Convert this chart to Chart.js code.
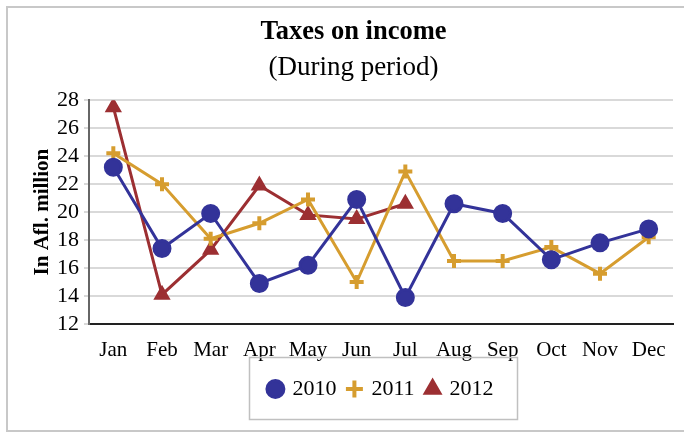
<!DOCTYPE html>
<html lang="en">
<head>
    <meta charset="UTF-8">
    <title>Taxes on income</title>
    <script src="https://cdn.jsdelivr.net/npm/chart.js"></script>
    <style>
        body {
            margin: 0;
            background: #ffffff;
        }
    </style>
</head>
<body>
    <canvas id="taxChart" width="684" height="434"></canvas>

    <script>
        const months = ["Jan", "Feb", "Mar", "Apr", "May", "Jun", "Jul", "Aug", "Sep", "Oct", "Nov", "Dec"];
        const taxes2010 = [23.2, 17.4, 19.9, 14.9, 16.2, 20.9, 13.9, 20.6, 19.9, 16.6, 17.8, 18.8];
        const taxes2011 = [24.2, 22.0, 18.1, 19.2, 20.9, 15.0, 22.9, 16.5, 16.5, 17.5, 15.6, 18.2];
        const taxes2012 = [27.5, 14.1, 17.3, 21.9, 19.8, 19.5, 20.6];

        const serif = "'Liberation Serif', 'Times New Roman', serif";

        // outer frame and the box around the legend
        const framePlugin = {
            id: "frame",
            afterLayout(chart) {
                // the legend sits a bit right of centre in the original
                chart.legend.left += 28;
                chart.legend.right += 28;
            },
            afterDraw(chart) {
                const ctx = chart.ctx;
                ctx.save();
                ctx.strokeStyle = "#c8c8c8";
                ctx.lineWidth = 2;
                ctx.strokeRect(7, 7, 690, 424);
                ctx.strokeStyle = "#c0c0c0";
                ctx.lineWidth = 1.5;
                ctx.strokeRect(249.5, 357.5, 268, 62);
                ctx.restore();
            }
        };

        new Chart(document.getElementById("taxChart"), {
            type: "line",
            data: {
                labels: months,
                datasets: [
                    {
                        label: "2010",
                        data: taxes2010,
                        borderColor: "#333399",
                        backgroundColor: "#333399",
                        borderWidth: 3,
                        pointStyle: "circle",
                        pointRadius: 8,
                        tension: 0
                    },
                    {
                        label: "2011",
                        data: taxes2011,
                        borderColor: "#d69d2f",
                        backgroundColor: "#d69d2f",
                        borderWidth: 3,
                        pointStyle: "cross",
                        pointRadius: 7,
                        pointBorderWidth: 4,
                        tension: 0
                    },
                    {
                        label: "2012",
                        data: taxes2012,
                        borderColor: "#9c2f32",
                        backgroundColor: "#9c2f32",
                        borderWidth: 3,
                        pointStyle: "triangle",
                        pointRadius: 7,
                        tension: 0
                    }
                ]
            },
            options: {
                responsive: false,
                animation: false,
                layout: {
                    padding: { left: 30, right: 7, top: 16, bottom: 24 }
                },
                plugins: {
                    title: {
                        display: true,
                        text: "Taxes on income",
                        color: "#000",
                        font: { family: serif, size: 26.5, weight: "bold" },
                        padding: { top: 0, bottom: 4 }
                    },
                    subtitle: {
                        display: true,
                        text: "(During period)",
                        color: "#000",
                        font: { family: serif, size: 27 },
                        padding: { top: 0, bottom: 16 }
                    },
                    legend: {
                        position: "bottom",
                        labels: {
                            usePointStyle: true,
                            boxWidth: 12,
                            boxHeight: 12,
                            color: "#000",
                            font: { family: serif, size: 22 },
                            padding: 12
                        }
                    },
                    tooltip: { enabled: false }
                },
                scales: {
                    x: {
                        offset: true,
                        grid: { display: false },
                        border: { color: "#222", width: 2 },
                        ticks: {
                            color: "#000",
                            font: { family: serif, size: 21 },
                            padding: 6,
                            maxRotation: 0,
                            autoSkip: false
                        },
                        afterFit(scale) {
                            scale.height = 42;
                        }
                    },
                    y: {
                        min: 12,
                        max: 28,
                        border: { color: "#666", width: 2 },
                        grid: { color: "#d9d9d9", lineWidth: 2, tickLength: 5 },
                        ticks: {
                            stepSize: 2,
                            autoSkip: false,
                            color: "#000",
                            font: { family: serif, size: 22 },
                            padding: 5
                        },
                        title: {
                            display: true,
                            text: "In Afl. million",
                            color: "#000",
                            font: { family: serif, size: 21, weight: "bold" },
                            padding: { top: 0, bottom: 2 }
                        },
                        afterFit(scale) {
                            scale.width = 59;
                        }
                    }
                }
            },
            plugins: [framePlugin]
        });
    </script>
</body>
</html>
